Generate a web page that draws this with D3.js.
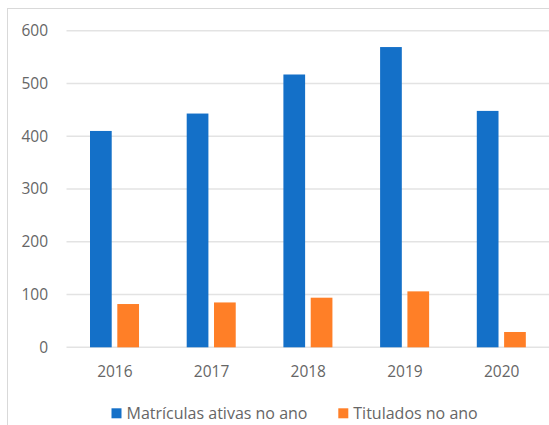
<!DOCTYPE html>
<html>
<head>
<meta charset="utf-8">
<script src="https://cdn.jsdelivr.net/npm/d3@7"></script>
<style>
  html, body { margin: 0; padding: 0; background: #fff; }
  svg { display: block; }
  text { font-family: "Open Sans", "Liberation Sans", sans-serif; fill: #666; }
</style>
</head>
<body>
<svg id="chart" width="549" height="425"></svg>
<script>
// Chart data
const years = ["2016", "2017", "2018", "2019", "2020"];
const seriesNames = ["Matrículas ativas no ano", "Titulados no ano"];
const matriculas = [410, 443, 517, 569, 448];
const titulados = [82, 85, 94, 106, 29];
const yTicks = [0, 100, 200, 300, 400, 500, 600];
const colors = ["#1470c8", "#ff7f27"];

const rows = years.map((y, i) => ({ year: y, values: [matriculas[i], titulados[i]] }));

const svg = d3.select("#chart");
const W = 549, H = 425;

// Outer chart frame (runs past the right and bottom edges)
svg.append("rect")
  .attr("x", 7.5).attr("y", 8.5)
  .attr("width", W + 20).attr("height", H + 20)
  .attr("fill", "none").attr("stroke", "#d9d9d9").attr("stroke-width", 1);

const plot = { left: 66.5, right: 550, top: 30.7, bottom: 347.3 };

const y = d3.scaleLinear().domain([0, 600]).range([plot.bottom, plot.top]);
const x0 = d3.scaleBand().domain(years).range([plot.left, plot.right]).padding(0);
const x1 = d3.scaleBand().domain([0, 1])
  .range([x0.bandwidth() * 0.243, x0.bandwidth() * 0.75])
  .paddingInner(0.205).paddingOuter(0);

// Gridlines
svg.append("g").selectAll("line").data(yTicks).join("line")
  .attr("x1", plot.left).attr("x2", W)
  .attr("y1", d => y(d)).attr("y2", d => y(d))
  .attr("stroke", "#e3e3e3").attr("stroke-width", 1.5);

// Y axis labels
const yAxis = d3.axisLeft(y).tickValues(yTicks).tickSize(0).tickPadding(0);
const gy = svg.append("g").attr("transform", `translate(48,0)`).call(yAxis);
gy.select(".domain").remove();
gy.selectAll("text").attr("font-size", 15.5).style("font-family", null).attr("fill", "#666");

// Bars
const groups = svg.append("g").selectAll("g").data(rows).join("g")
  .attr("transform", d => `translate(${x0(d.year)},0)`);
groups.selectAll("rect").data(d => d.values.map((v, k) => ({ k, v }))).join("rect")
  .attr("x", d => x1(d.k))
  .attr("width", x1.bandwidth())
  .attr("y", d => y(d.v))
  .attr("height", d => y(0) - y(d.v))
  .attr("fill", d => colors[d.k]);

// X axis labels
const xAxis = d3.axisBottom(x0).tickSize(0).tickPadding(0);
const gx = svg.append("g").attr("transform", `translate(0,366)`).call(xAxis);
gx.select(".domain").remove();
gx.selectAll("text").attr("font-size", 15.5).style("font-family", null).attr("fill", "#666");

// Legend
const legendItems = [
  { name: seriesNames[0], color: colors[0], x: 111.5 },
  { name: seriesNames[1], color: colors[1], x: 338.3 }
];
const lg = svg.append("g").selectAll("g").data(legendItems).join("g")
  .attr("transform", d => `translate(${d.x},0)`);
lg.append("rect").attr("x", 0).attr("y", 408.3).attr("width", 10).attr("height", 10)
  .attr("fill", d => d.color);
lg.append("text").attr("x", 15).attr("y", 418.5)
  .attr("font-size", 16).text(d => d.name);
</script>
</body>
</html>
